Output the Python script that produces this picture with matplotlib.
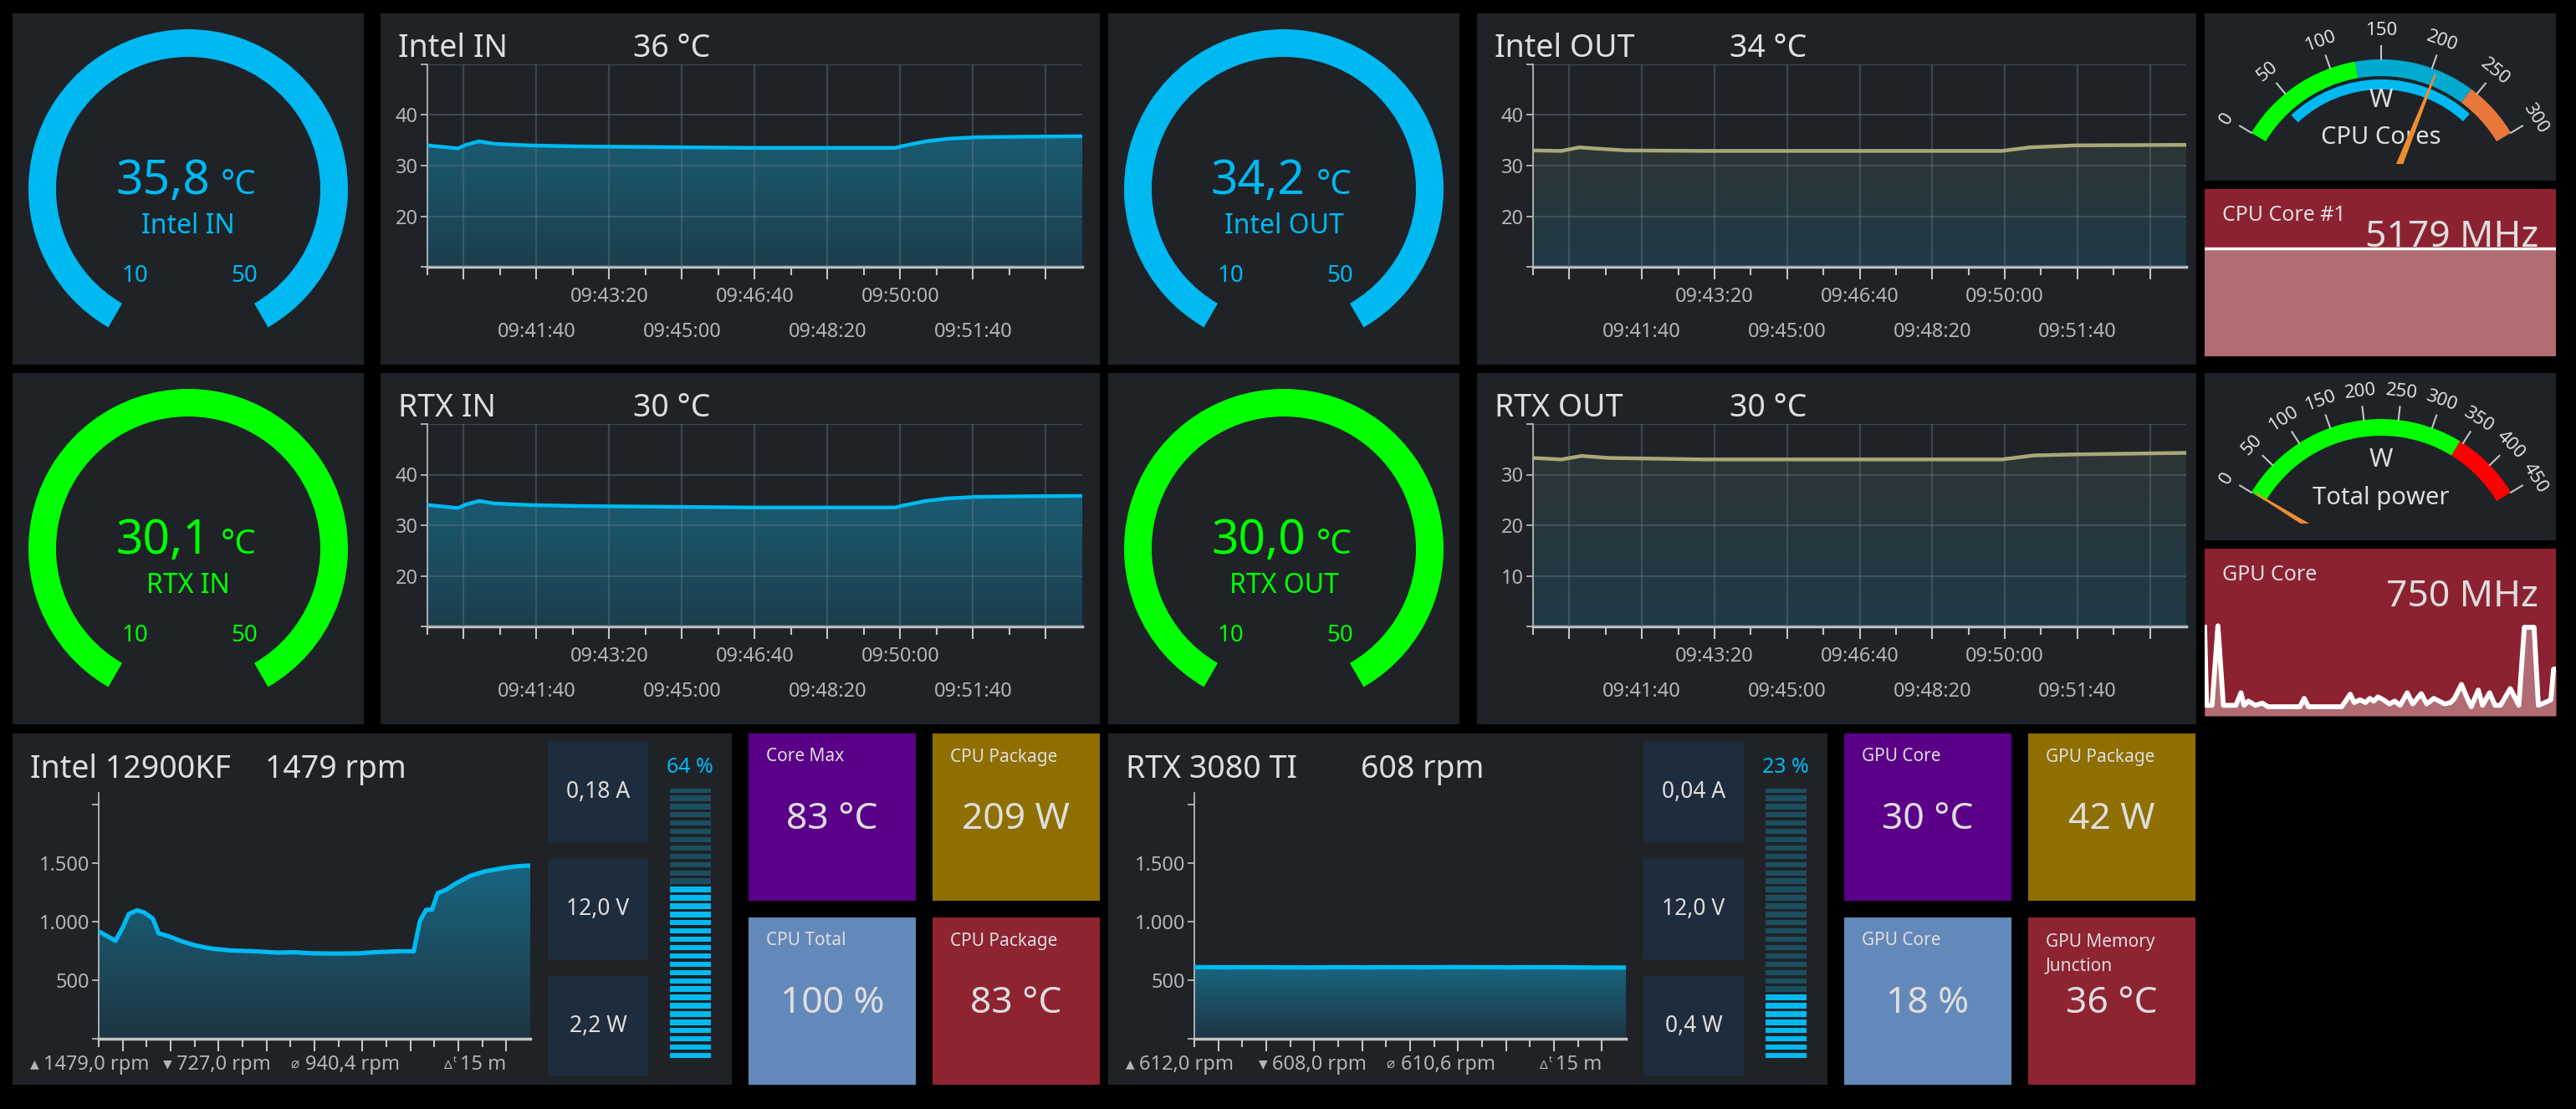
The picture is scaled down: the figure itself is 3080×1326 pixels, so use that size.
import numpy as np
import matplotlib
matplotlib.use("Agg")
import matplotlib.pyplot as plt
from matplotlib.patches import Wedge, Polygon, Rectangle
from matplotlib.colors import LinearSegmentedColormap
from matplotlib.ticker import FixedLocator, NullFormatter

plt.rcParams['font.family'] = ['Noto Sans', 'DejaVu Sans']

# ---------------- data ----------------
# ring gauges (current value, label)
ring_labels = ["Intel IN", "Intel OUT", "RTX IN", "RTX OUT"]
ring_values = [35.8, 34.2, 30.1, 30.0]
ring_min, ring_max = 10, 50

# temperature history charts
intel_in_time = ["09:39:10", "09:39:52", "09:40:03", "09:40:21", "09:40:42", "09:41:28", "09:42:35",
                 "09:46:37", "09:49:53", "09:50:04", "09:50:35", "09:51:05", "09:51:44", "09:52:37", "09:54:10"]
intel_in_temp = [34.0, 33.4, 34.1, 34.8, 34.3, 34.0, 33.8, 33.5, 33.5, 33.9, 34.8, 35.3, 35.6, 35.7, 35.8]

intel_out_time = ["09:39:10", "09:39:49", "09:40:14", "09:40:33", "09:41:18", "09:43:06", "09:46:18",
                  "09:49:56", "09:50:34", "09:51:38", "09:54:10"]
intel_out_temp = [33.0, 32.9, 33.6, 33.4, 33.0, 32.9, 32.9, 32.9, 33.6, 34.0, 34.1]

rtx_in_time = ["09:39:10", "09:39:52", "09:40:03", "09:40:21", "09:40:42", "09:41:28", "09:42:35",
               "09:46:37", "09:49:53", "09:50:04", "09:50:35", "09:51:05", "09:51:44", "09:52:37", "09:54:10"]
rtx_in_temp = [34.0, 33.4, 34.1, 34.8, 34.3, 34.0, 33.8, 33.5, 33.5, 33.9, 34.8, 35.3, 35.6, 35.7, 35.8]

rtx_out_time = ["09:39:10", "09:39:49", "09:40:17", "09:40:54", "09:43:06", "09:49:56", "09:50:40",
                "09:51:38", "09:54:10"]
rtx_out_temp = [33.3, 33.0, 33.7, 33.3, 33.0, 33.0, 33.8, 34.0, 34.3]

chart_titles = ["Intel IN", "Intel OUT", "RTX IN", "RTX OUT"]
chart_current = [36, 34, 30, 30]

# fan charts
intel_fan_time = ["09:39:10", "09:39:45", "09:40:00", "09:40:13", "09:40:30", "09:40:45", "09:41:03",
                  "09:41:15", "09:41:35", "09:42:05", "09:42:35", "09:43:05", "09:43:45", "09:44:35",
                  "09:45:25", "09:45:55", "09:46:35", "09:47:25", "09:48:15", "09:48:45", "09:49:35",
                  "09:50:07", "09:50:20", "09:50:33", "09:50:45", "09:50:57", "09:51:15", "09:51:35",
                  "09:52:05", "09:52:35", "09:53:15", "09:53:45", "09:54:10"]
intel_fan_rpm = [917, 837, 948, 1066, 1097, 1078, 1026, 900, 877, 829, 794, 770, 754, 747, 735, 739,
                 730, 727, 730, 739, 747, 747, 1007, 1102, 1102, 1244, 1273, 1327, 1391, 1429, 1458,
                 1474, 1479]

rtx_fan_time = ["09:39:10", "09:40:10", "09:41:10", "09:42:10", "09:43:10", "09:44:10", "09:45:10",
                "09:46:10", "09:47:10", "09:48:10", "09:49:10", "09:50:10", "09:51:10", "09:52:10",
                "09:53:10", "09:54:10"]
rtx_fan_rpm = [612, 610, 611, 610, 609, 611, 610, 611, 610, 612, 611, 610, 611, 610, 608, 608]

fan_titles = ["Intel 12900KF", "RTX 3080 TI"]
fan_now = [1479, 608]
fan_amps = ["0,18 A", "0,04 A"]
fan_volts = ["12,0 V", "12,0 V"]
fan_watts = ["2,2 W", "0,4 W"]
fan_pct = [64, 23]
fan_max = ["1479,0 rpm", "612,0 rpm"]
fan_min = ["727,0 rpm", "608,0 rpm"]
fan_avg = ["940,4 rpm", "610,6 rpm"]

# tiles
cpu_tile_labels = ["Core Max", "CPU Package", "CPU Total", "CPU Package"]
cpu_tile_values = ["83 °C", "209 W", "100 %", "83 °C"]
gpu_tile_labels = ["GPU Core", "GPU Package", "GPU Core", "GPU Memory\nJunction"]
gpu_tile_values = ["30 °C", "42 W", "18 %", "36 °C"]
tile_colors = ["#5a0088", "#8f6f00", "#6389ba", "#8e2331"]

# dials
cpu_cores_w = 205
cpu_cores_range = (40, 258)
cpu_cores_bands = [(0, 125, "#00ff00"), (125, 243, "#00aacf"), (243, 300, "#e8773c")]
total_power_w = 2
total_power_bands = [(0, 345, "#00ff00"), (345, 450, "#ff0000")]

# clock sparklines
cpu_clock_sec = [0, 60, 120, 180, 240, 300, 360, 420, 480, 540, 600, 660, 720, 780, 840, 900]
cpu_clock_mhz = [5179] * 16
gpu_clock_sec = [0, 5, 19, 34, 48, 80, 93, 101, 112, 130, 148, 162, 244, 255, 266, 351, 373, 383,
                 398, 412, 423, 433, 444, 458, 473, 487, 501, 519, 533, 555, 569, 587, 601, 615,
                 630, 640, 658, 673, 683, 701, 712, 730, 744, 758, 783, 805, 819, 844, 855, 872,
                 887, 894, 900]
gpu_clock_mhz = [1420, 170, 170, 1443, 170, 170, 371, 170, 237, 170, 205, 147, 147, 281, 147, 147,
                 348, 214, 259, 214, 281, 237, 304, 259, 192, 237, 170, 371, 192, 357, 192, 281,
                 237, 192, 214, 281, 505, 281, 147, 415, 170, 371, 170, 170, 438, 170, 1420, 1420,
                 170, 214, 259, 750, 750]

# ---------------- style ----------------
PANEL = "#1f2328"
TEXT = "#dedede"
TICK_TXT = "#b5b5b5"
AXIS = "#c4c4c4"
CYAN = "#00b9f0"
GREEN = "#00ff00"
KHAKI = "#aaa878"

FIG_W, FIG_H = 3080, 1326
fig = plt.figure(figsize=(FIG_W / 100, FIG_H / 100), dpi=100, facecolor="black")


def secs(s):
    h, m, sec = s.split(":")
    return int(h) * 3600 + int(m) * 60 + int(sec)


def hms(t):
    t = int(round(t))
    return f"{t // 3600:02d}:{t % 3600 // 60:02d}:{t % 60:02d}"


T0 = secs("09:39:10")
T1 = T0 + 900
MAJORS = np.arange(secs("09:40:00"), T1, 100)
MINORS = np.arange(secs("09:40:00") - 50, T1, 100)


def box_axes(x0, y0, x1, y1):
    # pixel box, origin top-left
    return fig.add_axes([x0 / FIG_W, 1 - y1 / FIG_H, (x1 - x0) / FIG_W, (y1 - y0) / FIG_H])


def panel(x0, y0, x1, y1, color=PANEL):
    ax = box_axes(x0, y0, x1, y1)
    ax.set_facecolor(color)
    ax.set_xlim(0, x1 - x0)
    ax.set_ylim(0, y1 - y0)
    ax.set_xticks([])
    ax.set_yticks([])
    for s in ax.spines.values():
        s.set_visible(False)
    return ax


def put(ax, x, y, s, size, color=TEXT, ha="left", va="baseline", **kw):
    return ax.text(x, ax.get_ylim()[1] - y, s, fontsize=size, color=color, ha=ha, va=va, **kw)


def gradient_fill(ax, t, v, base, top_c, bot_c):
    poly = ax.fill_between(t, v, base, facecolor="none", edgecolor="none")
    cmap = LinearSegmentedColormap.from_list("g", [bot_c, top_c])
    img = ax.imshow(np.linspace(0, 1, 256).reshape(-1, 1), cmap=cmap, aspect="auto", origin="lower",
                    extent=[t[0], t[-1], base, max(v)], zorder=1, interpolation="bilinear")
    img.set_clip_path(poly.get_paths()[0], ax.transData)


def style_axis(ax):
    ax.set_facecolor("none")
    for s in ("top", "right"):
        ax.spines[s].set_visible(False)
    ax.spines["left"].set_color(AXIS)
    ax.spines["left"].set_linewidth(1.2)
    ax.spines["bottom"].set_color(AXIS)
    ax.spines["bottom"].set_linewidth(2.5)
    ax.tick_params(axis="y", colors=AXIS, labelcolor=TICK_TXT, labelsize=17, length=6, width=1.2, pad=2)
    ax.tick_params(axis="x", which="major", colors=AXIS, length=11, width=1.5)
    ax.tick_params(axis="x", which="minor", colors=AXIS, length=7, width=1.5)
    ax.xaxis.set_major_locator(FixedLocator(MAJORS))
    ax.xaxis.set_minor_locator(FixedLocator(MINORS))
    ax.xaxis.set_major_formatter(NullFormatter())
    ax.set_xlim(T0, T1)


# ---------------- ring gauges ----------------
def ring_gauge(x0, y0, value, label, color):
    p = panel(x0, y0, x0 + 420, y0 + 420)
    p.add_patch(Wedge((210, 210), 191, -60, 240, width=33, color=color, lw=0))
    put(p, 236, 216, f"{value:.1f}".replace(".", ","), 41, color, ha="right")
    put(p, 249, 216, "°C", 29, color)
    put(p, 210, 263, label, 23, color, ha="center")
    put(p, 146, 321, str(ring_min), 20, color, ha="center")
    put(p, 277, 321, str(ring_max), 20, color, ha="center")


ring_pos = [(15, 16), (1325, 16), (15, 446), (1325, 446)]
ring_cols = [CYAN, CYAN, GREEN, GREEN]
for (x, y), v, lab, c in zip(ring_pos, ring_values, ring_labels, ring_cols):
    ring_gauge(x, y, v, lab, c)


# ---------------- temperature charts ----------------
def temp_chart(px0, py0, ax_x0, ax_x1, title, current, times, temps, ylim, ticks, ticklabels,
               line_c, top_c, bot_c):
    p = panel(px0, py0, px0 + 860, py0 + 420)
    put(p, 21, 52, title, 27)
    put(p, 302, 52, f"{current} °C", 27)
    ax = box_axes(ax_x0, py0 + 61, ax_x1, py0 + 303)
    t = [secs(s) for s in times]
    gradient_fill(ax, t, temps, ylim[0], top_c, bot_c)
    ax.plot(t, temps, color=line_c, lw=3.2, zorder=4, solid_capstyle="butt")
    style_axis(ax)
    ax.set_ylim(*ylim)
    ax.set_yticks(ticks)
    ax.set_yticklabels(ticklabels)
    ax.set_axisbelow(False)
    ax.grid(True, which="major", color="#5d7580", lw=1.6, alpha=0.45, zorder=2)
    for k, tm in enumerate(MAJORS):
        if k == 0 or k == len(MAJORS) - 1:
            continue
        off = -26 if k % 2 == 0 else -56
        ax.annotate(hms(tm), (tm, 0), xycoords=("data", "axes fraction"), xytext=(0, off),
                    textcoords="offset points", ha="center", va="center", fontsize=17, color=TICK_TXT)


IN_FILL = ("#1a5b71", "#1c3e4d")
OUT_FILL = ("#2c3535", "#1f3a47")
temp_chart(455, 16, 511, 1294, chart_titles[0], chart_current[0], intel_in_time, intel_in_temp,
           (10, 50), [10, 20, 30, 40, 50], ["", "20", "30", "40", ""], CYAN, *IN_FILL)
temp_chart(1766, 16, 1833, 2614, chart_titles[1], chart_current[1], intel_out_time, intel_out_temp,
           (10, 50), [10, 20, 30, 40, 50], ["", "20", "30", "40", ""], KHAKI, *OUT_FILL)
temp_chart(455, 446, 511, 1294, chart_titles[2], chart_current[2], rtx_in_time, rtx_in_temp,
           (10, 50), [10, 20, 30, 40, 50], ["", "20", "30", "40", ""], CYAN, *IN_FILL)
temp_chart(1766, 446, 1833, 2614, chart_titles[3], chart_current[3], rtx_out_time, rtx_out_temp,
           (0, 40), [0, 10, 20, 30, 40], ["", "10", "20", "30", ""], KHAKI, *OUT_FILL)


# ---------------- fan panels ----------------
def fan_panel(px0, i, times, rpm):
    py0 = 877
    p = panel(px0, py0, px0 + 860, py0 + 420)
    put(p, 21, 53, fan_titles[i], 27)
    put(p, 302, 53, f"{fan_now[i]} rpm", 27)

    ax = box_axes(px0 + 103, py0 + 71, px0 + 619, py0 + 365)
    t = [secs(s) for s in times]
    gradient_fill(ax, t, rpm, 0, "#196580", "#1d3542")
    ax.plot(t, rpm, color=CYAN, lw=3.8, zorder=4)
    style_axis(ax)
    ax.set_ylim(0, 2100)
    ax.set_yticks([0, 500, 1000, 1500, 2000])
    ax.set_yticklabels(["", "500", "1.000", "1.500", ""])

    # stats row
    y = 396
    put(p, 21, y, "▲", 10, TICK_TXT, va="center")
    put(p, 37, y, fan_max[i], 17, TICK_TXT, va="center")
    put(p, 180, y, "▼", 10, TICK_TXT, va="center")
    put(p, 196, y, fan_min[i], 17, TICK_TXT, va="center")
    put(p, 332, y, "⌀", 12, TICK_TXT, va="center")
    put(p, 350, y, fan_avg[i], 17, TICK_TXT, va="center")
    put(p, 516, y + 2, "Δ", 11, TICK_TXT, va="center")
    put(p, 527, y - 5, "t", 8, TICK_TXT, va="center")
    put(p, 535, y, "15 m", 17, TICK_TXT, va="center")

    # readout boxes
    for k, txt in enumerate([fan_amps[i], fan_volts[i], fan_watts[i]]):
        top = 10 + 140 * k
        p.add_patch(Rectangle((640, 420 - top - 120), 120, 120, color="#1e2d3d", lw=0))
        put(p, 700, top + 60, txt, 19, TEXT, ha="center", va="center")

    # segmented level bar
    put(p, 810, 41, f"{fan_pct[i]} %", 18, CYAN, ha="center", va="center")
    bx = box_axes(px0 + 786, py0 + 66, px0 + 835, py0 + 390)
    bx.set_axis_off()
    n = 33
    lit = int(round(fan_pct[i] / 100 * n))
    cols = [CYAN if k < lit else "#1b4f60" for k in range(n)]
    bx.bar(np.full(n, 0.5), 0.64, width=1, bottom=np.arange(n) + 0.18, color=cols, lw=0)
    bx.set_xlim(0, 1)
    bx.set_ylim(0, n - 0.35)


fan_panel(15, 0, intel_fan_time, intel_fan_rpm)
fan_panel(1325, 1, rtx_fan_time, rtx_fan_rpm)


# ---------------- tiles ----------------
def tile(x0, y0, color, label, value):
    p = panel(x0, y0, x0 + 200, y0 + 200, color)
    if "\n" in label:
        put(p, 21, 44, label, 15, TEXT, va="center", linespacing=1.45)
    else:
        put(p, 21, 28, label, 15, TEXT, va="center")
    put(p, 100, 103, value, 32, TEXT, ha="center", va="center")


tile_pos = [(0, 0), (220, 0), (0, 220), (220, 220)]
for (dx, dy), lab, val, c in zip(tile_pos, cpu_tile_labels, cpu_tile_values, tile_colors):
    tile(895 + dx, 877 + dy, c, lab, val)
for (dx, dy), lab, val, c in zip(tile_pos, gpu_tile_labels, gpu_tile_values, tile_colors):
    tile(2205 + dx, 877 + dy, c, lab, val)


# ---------------- dials ----------------
def dial(py0, vmax, step, bands, value, label, minmax=None):
    panel(2636, py0, 3056, py0 + 200)
    ax = box_axes(2636, py0, 3056, py0 + 180)
    ax.set_xlim(0, 420)
    ax.set_ylim(0, 180)
    ax.set_axis_off()
    cx, cy = 211, -56

    def ang(v):
        return 149 - 118 * v / vmax

    for v0, v1, c in bands:
        ax.add_patch(Wedge((cx, cy), 181, ang(v1), ang(v0), width=20, color=c, lw=0))
    if minmax:
        ax.add_patch(Wedge((cx, cy), 157, ang(minmax[1]), ang(minmax[0]), width=12, color=CYAN, lw=0))
    for v in range(0, vmax + 1, step):
        a = np.radians(ang(v))
        ax.plot([cx + 181 * np.cos(a), cx + 197 * np.cos(a)], [cy + 181 * np.sin(a), cy + 197 * np.sin(a)],
                color=AXIS, lw=1.5)
        ax.text(cx + 215 * np.cos(a), cy + 215 * np.sin(a), str(v), rotation=ang(v) - 90,
                rotation_mode="anchor", ha="center", va="center", fontsize=16, color=TEXT)
    ax.text(cx, 76, "W", ha="center", va="center", fontsize=22, color=TEXT)
    ax.text(cx, 31, label, ha="center", va="center", fontsize=21, color=TEXT)
    a = np.radians(ang(value))
    d = np.array([np.cos(a), np.sin(a)])
    nrm = np.array([-d[1], d[0]])
    c0 = np.array([cx, cy])
    pts = [c0 + nrm * 5.5, c0 + d * 176 + nrm * 1, c0 + d * 176 - nrm * 1, c0 - nrm * 5.5]
    ax.add_patch(Polygon(pts, closed=True, color="#f08c30", lw=0, zorder=5))


dial(16, 300, 50, cpu_cores_bands, cpu_cores_w, "CPU Cores", cpu_cores_range)
dial(446, 450, 50, total_power_bands, total_power_w, "Total power")


# ---------------- clock sparklines ----------------
def spark(py0, label, value_txt, t, v, ymax, lw):
    p = panel(2636, py0, 3056, py0 + 200, "#8c2231")
    put(p, 21, 31, label, 18, TEXT, va="center")
    put(p, 399, 69, value_txt, 32, TEXT, ha="right")
    ax = box_axes(2636, py0, 3056, py0 + 200)
    ax.set_axis_off()
    ax.fill_between(t, v, 0, color="#b06b73", lw=0, zorder=2)
    ax.plot(t, v, color="white", lw=lw, zorder=3)
    ax.set_xlim(t[0], t[-1])
    ax.set_ylim(0, ymax)


spark(226, "CPU Core #1", f"{cpu_clock_mhz[-1]} MHz", cpu_clock_sec, cpu_clock_mhz, 8030, 2.5)
spark(656, "GPU Core", f"{gpu_clock_mhz[-1]} MHz", gpu_clock_sec, gpu_clock_mhz, 2680, 4.2)

fig.savefig("out.png", dpi=100, facecolor="black")
